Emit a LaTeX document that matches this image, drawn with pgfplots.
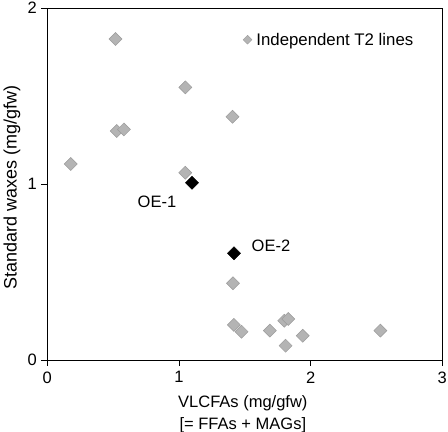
\documentclass[border=0pt]{standalone}
\usepackage{fontspec}
\setmainfont{Liberation Sans}
\usepackage{pgfplots}
\pgfplotsset{compat=1.18}
\definecolor{ptfill}{RGB}{180,180,180}
\definecolor{ptdraw}{RGB}{155,155,155}
\begin{document}
\begin{tikzpicture}
\begin{axis}[
  scale only axis,
  width=395pt, height=352pt,
  xmin=0, xmax=3, ymin=0, ymax=2,
  xtick={0,1,2,3}, ytick={0,1,2},
  minor tick num=0,
  tick align=outside,
  major tick length=6pt,
  tick style={black, line width=0.6pt},
  xtick pos=bottom, ytick pos=left,
  axis line style={line width=0.7pt, black},
  /pgf/number format/assume math mode=true,
  ticklabel style={font=\fontsize{16.5}{19}\selectfont},
  xticklabel style={yshift=-2pt},
  yticklabel style={xshift=-1pt},
  xlabel={VLCFAs (mg/gfw)\\{}[= FFAs + MAGs]},
  xlabel style={at={(axis description cs:0.495,0)}, anchor=north, yshift=-35pt,
    inner sep=0pt, align=center, font=\fontsize{16.5}{22}\selectfont},
  ylabel={Standard waxes (mg/gfw)},
  ylabel style={at={(axis description cs:-0.068,0.49)}, anchor=south, inner sep=0pt,
    font=\fontsize{18}{21}\selectfont},
  legend style={at={(axis cs:1.52,1.82)}, anchor=west, xshift=-4.5pt,
    draw=none, fill=none, inner sep=0pt, column sep=2.5pt,
    font=\fontsize{16.8}{19}\selectfont},
  legend cell align=left,
  clip=false,
]
\addplot[only marks, mark=square*, mark size=4.6pt,
  mark options={rotate=45, fill=ptfill, draw=ptdraw, line width=0.5pt},
  legend image code/.code={\draw[only marks, mark=square*, mark size=3.1pt,
    mark options={rotate=45, fill=ptfill, draw=ptdraw, line width=0.4pt}]
    plot coordinates {(0cm,0cm)};}]
coordinates {
(0.518,1.824)
(1.048,1.549)
(1.407,1.382)
(0.527,1.301)
(0.582,1.310)
(0.178,1.114)
(1.048,1.064)
(1.410,0.436)
(1.417,0.199)
(1.475,0.161)
(1.690,0.167)
(1.800,0.223)
(1.830,0.233)
(1.940,0.138)
(1.810,0.081)
(2.530,0.167)
};
\addlegendentry{Independent T2 lines}
\addplot[only marks, mark=square*, mark size=4.6pt,
  mark options={rotate=45, fill=black, draw=black, line width=0.5pt},
  forget plot]
coordinates {
(1.099,1.007)
(1.418,0.606)
};
\node[font=\fontsize{16.5}{19}\selectfont, inner sep=0pt] at (axis cs:0.833,0.898) {OE-1};
\node[font=\fontsize{16.5}{19}\selectfont, inner sep=0pt] at (axis cs:1.699,0.651) {OE-2};
\end{axis}
\path (current axis.south west) ++(-47.3pt,-72pt) coordinate (bl);
\path (current axis.north east) ++(5.7pt,8pt) coordinate (tr);
\pgfresetboundingbox
\path (bl) rectangle (tr);
\end{tikzpicture}
\end{document}
